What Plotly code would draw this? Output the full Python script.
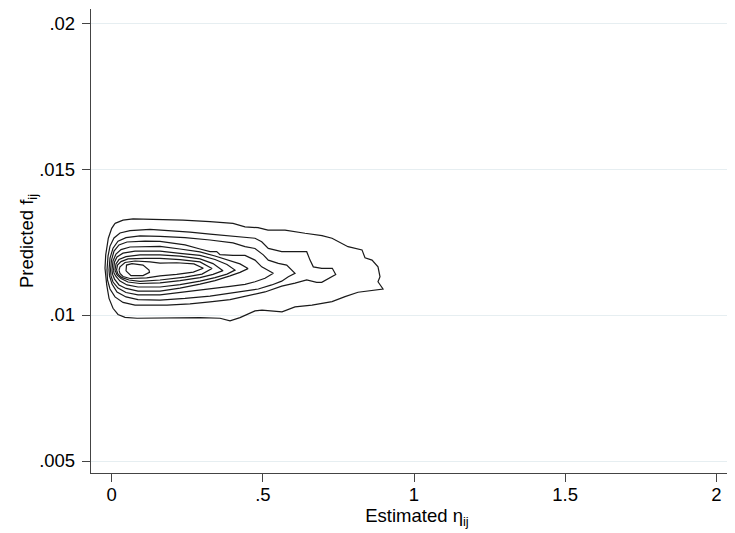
import plotly.graph_objects as go

# Contour lines of the joint density (estimated eta_ij, predicted f_ij), outermost (1) to innermost (10)
c1_x = [0.0109, 0.0374, 0.0705, 0.1598, 0.2359, 0.3252, 0.4013, 0.4410, 0.4840, 0.5170, 0.5733, 0.6394,
        0.6957, 0.7288, 0.7618, 0.7817, 0.8280, 0.8379, 0.8611, 0.8809, 0.8875, 0.8809, 0.8975, 0.8148,
        0.7718, 0.7288, 0.6626, 0.6064, 0.5634, 0.5402, 0.4972, 0.4740, 0.4410, 0.4244, 0.3913, 0.3583,
        0.2921, 0.1829, 0.0837, 0.0440, 0.0208, 0.0043, -0.0089, -0.0165, -0.0222, -0.0198, -0.0112,
        0.0000, 0.0109]
c1_y = [0.01314, 0.01325, 0.01329, 0.01328, 0.01325, 0.01320, 0.01314, 0.01302, 0.01299, 0.01291, 0.01291,
        0.01280, 0.01272, 0.01263, 0.01246, 0.01234, 0.01223, 0.01196, 0.01188, 0.01165, 0.01131, 0.01114,
        0.01089, 0.01078, 0.01063, 0.01046, 0.01034, 0.01028, 0.01011, 0.01014, 0.01017, 0.01014, 0.01000,
        0.00991, 0.00980, 0.00989, 0.00991, 0.00989, 0.00989, 0.00992, 0.01002, 0.01023, 0.01057, 0.01103,
        0.01160, 0.01206, 0.01263, 0.01297, 0.01314]

c2_x = [-0.0155, -0.0122, -0.0056, 0.0076, 0.0275, 0.0605, 0.1267, 0.1929, 0.2590, 0.3252, 0.3913, 0.4410,
        0.4740, 0.4962, 0.5180, 0.5624, 0.6451, 0.6560, 0.6669, 0.6947, 0.7297, 0.7410, 0.6947, 0.6781,
        0.6451, 0.6064, 0.5624, 0.5071, 0.4410, 0.3913, 0.3252, 0.2590, 0.1829, 0.0771, 0.0374, 0.0109,
        -0.0056, -0.0139, -0.0155]
c2_y = [0.01154, 0.01202, 0.01236, 0.01264, 0.01281, 0.01289, 0.01293, 0.01289, 0.01284, 0.01277, 0.01271,
        0.01266, 0.01263, 0.01251, 0.01228, 0.01217, 0.01217, 0.01188, 0.01165, 0.01160, 0.01160, 0.01139,
        0.01112, 0.01112, 0.01120, 0.01109, 0.01099, 0.01079, 0.01063, 0.01053, 0.01045, 0.01038, 0.01034,
        0.01034, 0.01043, 0.01062, 0.01089, 0.01120, 0.01154]

c3_x = [-0.0089, -0.0056, 0.0043, 0.0208, 0.0473, 0.0936, 0.1598, 0.2425, 0.3252, 0.4013, 0.4410, 0.4740,
        0.5015, 0.5180, 0.5511, 0.5789, 0.6064, 0.5842, 0.5624, 0.5293, 0.4850, 0.4410, 0.3913, 0.3252,
        0.2425, 0.1598, 0.0870, 0.0473, 0.0175, 0.0010, -0.0073, -0.0089]
c3_y = [0.01154, 0.01195, 0.01229, 0.01253, 0.01265, 0.01271, 0.01269, 0.01265, 0.01257, 0.01247, 0.01234,
        0.01228, 0.01206, 0.01188, 0.01177, 0.01171, 0.01143, 0.01131, 0.01116, 0.01103, 0.01089, 0.01082,
        0.01074, 0.01065, 0.01057, 0.01051, 0.01053, 0.01062, 0.01079, 0.01106, 0.01134, 0.01154]

c4_x = [-0.0040, -0.0007, 0.0076, 0.0241, 0.0506, 0.1102, 0.1598, 0.2425, 0.2921, 0.3252, 0.3473, 0.3583,
        0.4013, 0.4410, 0.4740, 0.4962, 0.5346, 0.5071, 0.4740, 0.4410, 0.3913, 0.3252, 0.2425, 0.1598,
        0.0870, 0.0473, 0.0208, 0.0043, -0.0023, -0.0040]
c4_y = [0.01154, 0.01188, 0.01219, 0.01240, 0.01250, 0.01253, 0.01252, 0.01240, 0.01226, 0.01217, 0.01217,
        0.01207, 0.01204, 0.01204, 0.01188, 0.01165, 0.01143, 0.01126, 0.01114, 0.01105, 0.01098, 0.01089,
        0.01079, 0.01069, 0.01069, 0.01077, 0.01092, 0.01113, 0.01134, 0.01154]

c5_x = [0.0010, 0.0043, 0.0142, 0.0308, 0.0605, 0.1102, 0.1598, 0.2259, 0.2921, 0.3417, 0.3913, 0.4244,
        0.4509, 0.4244, 0.3913, 0.3417, 0.2921, 0.2259, 0.1598, 0.0870, 0.0473, 0.0241, 0.0093, 0.0026,
        0.0010]
c5_y = [0.01154, 0.01185, 0.01209, 0.01224, 0.01233, 0.01235, 0.01235, 0.01226, 0.01216, 0.01202, 0.01185,
        0.01175, 0.01159, 0.01146, 0.01134, 0.01118, 0.01106, 0.01092, 0.01082, 0.01082, 0.01091, 0.01103,
        0.01123, 0.01140, 0.01154]

c6_x = [0.0060, 0.0093, 0.0175, 0.0374, 0.0771, 0.1598, 0.2259, 0.2921, 0.3417, 0.3814, 0.4079, 0.3814,
        0.3417, 0.2921, 0.2259, 0.1598, 0.0870, 0.0506, 0.0275, 0.0142, 0.0076, 0.0060]
c6_y = [0.01154, 0.01182, 0.01199, 0.01212, 0.01219, 0.01219, 0.01211, 0.01204, 0.01190, 0.01173, 0.01154,
        0.01140, 0.01128, 0.01116, 0.01104, 0.01096, 0.01096, 0.01103, 0.01116, 0.01132, 0.01144, 0.01154]

c7_x = [0.0109, 0.0142, 0.0241, 0.0473, 0.0936, 0.1598, 0.2259, 0.2921, 0.3351, 0.3682, 0.3351, 0.2921,
        0.2259, 0.1598, 0.0936, 0.0539, 0.0308, 0.0175, 0.0109]
c7_y = [0.01154, 0.01175, 0.01190, 0.01200, 0.01206, 0.01206, 0.01202, 0.01192, 0.01176, 0.01152, 0.01139,
        0.01128, 0.01118, 0.01110, 0.01108, 0.01113, 0.01125, 0.01137, 0.01154]

c8_x = [0.0159, 0.0192, 0.0308, 0.0539, 0.1102, 0.1598, 0.2259, 0.2921, 0.3318, 0.2987, 0.2425, 0.1598,
        0.0936, 0.0572, 0.0341, 0.0208, 0.0159]
c8_y = [0.01154, 0.01171, 0.01183, 0.01192, 0.01194, 0.01194, 0.01190, 0.01182, 0.01159, 0.01140, 0.01130,
        0.01120, 0.01115, 0.01120, 0.01128, 0.01140, 0.01154]

c9_x = [0.0241, 0.0275, 0.0440, 0.0771, 0.1267, 0.1598, 0.2150, 0.2722, 0.3030, 0.2699, 0.2150, 0.1598,
        0.1158, 0.0605, 0.0374, 0.0275, 0.0241]
c9_y = [0.01154, 0.01165, 0.01180, 0.01185, 0.01182, 0.01178, 0.01179, 0.01175, 0.01160, 0.01147, 0.01139,
        0.01134, 0.01127, 0.01125, 0.01132, 0.01142, 0.01154]

c10_x = [0.0473, 0.0490, 0.0672, 0.1035, 0.1234, 0.1250, 0.1035, 0.0638, 0.0473]
c10_y = [0.01151, 0.01171, 0.01176, 0.01171, 0.01154, 0.01146, 0.01135, 0.01135, 0.01151]

contours = [(c1_x, c1_y), (c2_x, c2_y), (c3_x, c3_y), (c4_x, c4_y), (c5_x, c5_y),
            (c6_x, c6_y), (c7_x, c7_y), (c8_x, c8_y), (c9_x, c9_y), (c10_x, c10_y)]

x_tick_vals = [0, 0.5, 1, 1.5, 2]
x_tick_text = ["0", ".5", "1", "1.5", "2"]
y_tick_vals = [0.005, 0.01, 0.015, 0.02]
y_tick_text = [".005", ".01", ".015", ".02"]

FONT = "Liberation Sans, Arial, sans-serif"
FS = 18.5

fig = go.Figure()
for cx, cy in contours:
    fig.add_trace(go.Scatter(x=cx, y=cy, mode="lines",
                             line=dict(color="#1a1a1a", width=1.2),
                             hoverinfo="skip", showlegend=False))

# the page body adds an 8px offset, so margins are set 8px smaller
fig.update_layout(
    width=735, height=533,
    margin=dict(l=83, r=0, t=1, b=68),
    paper_bgcolor="white", plot_bgcolor="white",
    font=dict(family=FONT, size=FS, color="#000000"),
    showlegend=False,
)
fig.update_xaxes(
    range=[-0.0685, 2.0883], automargin=True,
    tickvals=x_tick_vals, ticktext=x_tick_text,
    showline=True, linecolor="#444444", linewidth=1.3,
    ticks="outside", ticklen=8, tickcolor="#444444", tickwidth=1.3,
    ticklabelstandoff=-3,
    showgrid=False, zeroline=False,
    tickfont=dict(size=FS, color="#000000"),
    title=dict(text="Estimated η<sub>ij</sub>", font=dict(size=FS), standoff=2),
)
fig.update_yaxes(
    range=[0.004589, 0.020481], automargin=True,
    tickvals=y_tick_vals, ticktext=y_tick_text,
    showline=True, linecolor="#444444", linewidth=1.3,
    ticks="outside", ticklen=8, tickcolor="#444444", tickwidth=1.3,
    ticklabelstandoff=3,
    showgrid=True, gridcolor="#E6EEF1", gridwidth=1.3, zeroline=False,
    tickfont=dict(size=FS, color="#000000"),
    title=dict(text="Predicted f<sub>ij</sub>", font=dict(size=FS), standoff=0),
)

fig.write_html("out.html")
